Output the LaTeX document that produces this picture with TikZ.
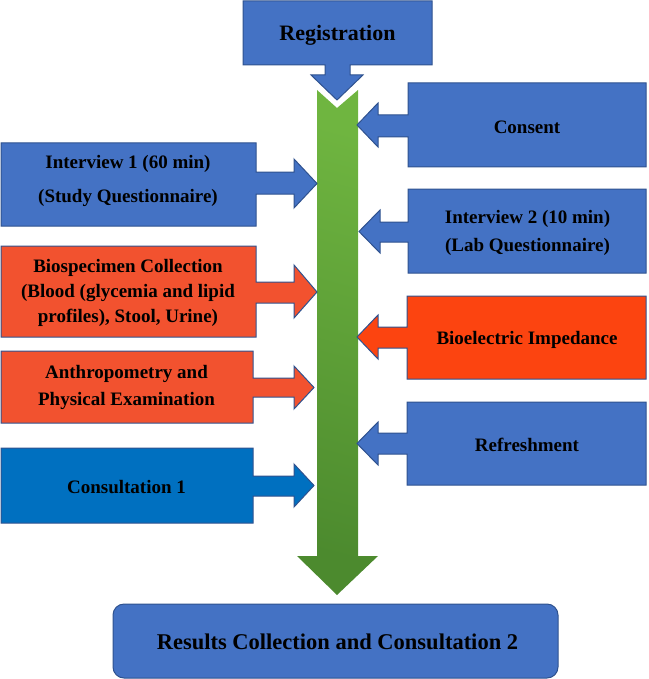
\documentclass[tikz,border=0pt]{standalone}
\usepackage{fontspec}
\setmainfont{Liberation Serif}
\definecolor{boxblue}{HTML}{4472C4}
\definecolor{boxline}{HTML}{2F528F}
\definecolor{lorange}{HTML}{F2522F}
\definecolor{rorange}{HTML}{FC4410}
\definecolor{deepblue}{HTML}{0070C0}
\definecolor{gtop}{HTML}{6FB540}
\definecolor{gbot}{HTML}{4C8A2E}
\tikzset{
  callout/.style={draw=boxline, line width=1pt, line join=miter},
  lbl/.style={font=\bfseries\fontsize{19}{23}\selectfont, align=center, inner sep=0pt, text=black},
}
\begin{document}
\begin{tikzpicture}[x=1pt,y=-1pt]
\useasboundingbox (0,0) rectangle (648,679);
% green main arrow
\shade[top color=gtop, bottom color=gbot, shading angle=-15]
  (317,90) -- (337,108) -- (358,90) -- (358,556) -- (378,556) -- (337,595)
  -- (297,556) -- (317,556) -- cycle;
% Registration (down)
\draw[callout, fill=boxblue] (243,1) -- (432,1) -- (432,65) -- (350,65) -- (350,75) -- (363,75)
  -- (337,100) -- (311,75) -- (325,75) -- (325,65) -- (243,65) -- cycle;
\node[lbl, font=\bfseries\fontsize{22}{26}\selectfont] (reg) at (337.5,35) {Registration};
% Left callouts (pointing right)
\draw[callout, fill=boxblue] (1,143) -- (256,143) -- (256,172) -- (294,172) -- (294,159) -- (317,183.5)
  -- (294,208) -- (294,194) -- (256,194) -- (256,226) -- (1,226) -- cycle;
\node[lbl, font=\bfseries\fontsize{19}{34}\selectfont] (int1) at (128,181) {Interview 1 (60 min)\\(Study Questionnaire)};
\draw[callout, fill=lorange] (1,246) -- (256,246) -- (256,282) -- (294,282) -- (294,265) -- (317,292)
  -- (294,318) -- (294,303) -- (256,303) -- (256,337) -- (1,337) -- cycle;
\node[lbl, font=\bfseries\fontsize{19}{25}\selectfont] (bio) at (128,293) {Biospecimen Collection\\(Blood (glycemia and lipid\\profiles), Stool, Urine)};
\draw[callout, fill=lorange] (1,351) -- (253,351) -- (253,378) -- (294,378) -- (294,366) -- (314,387.5)
  -- (294,409) -- (294,397) -- (253,397) -- (253,423) -- (1,423) -- cycle;
\node[lbl, font=\bfseries\fontsize{19}{27}\selectfont] (anth) at (126.5,387) {Anthropometry and\\Physical Examination};
\draw[callout, fill=deepblue] (1,448) -- (253,448) -- (253,476) -- (294,476) -- (294,464) -- (314,485.5)
  -- (294,507) -- (294,496) -- (253,496) -- (253,523) -- (1,523) -- cycle;
\node[lbl] (cons1) at (126.5,487) {Consultation 1};
% Right callouts (pointing left)
\draw[callout, fill=boxblue] (646,83) -- (408,83) -- (408,115) -- (378,115) -- (378,103) -- (357,125)
  -- (378,147) -- (378,137) -- (408,137) -- (408,167) -- (646,167) -- cycle;
\node[lbl] (consent) at (527,127) {Consent};
\draw[callout, fill=boxblue] (646,189) -- (408,189) -- (408,222) -- (380,222) -- (380,210) -- (359,231.5)
  -- (380,253) -- (380,242) -- (408,242) -- (408,273) -- (646,273) -- cycle;
\node[lbl, font=\bfseries\fontsize{19}{28}\selectfont] (int2) at (527.5,232.5) {Interview 2 (10 min)\\(Lab Questionnaire)};
\draw[callout, fill=rorange] (646,296) -- (407,296) -- (407,327) -- (378,327) -- (378,315) -- (357,337)
  -- (378,359) -- (378,348) -- (407,348) -- (407,379) -- (646,379) -- cycle;
\node[lbl] (bia) at (527,340) {Bioelectric Impedance};
\draw[callout, fill=boxblue] (646,402) -- (407,402) -- (407,433) -- (378,433) -- (378,422) -- (357,443.5)
  -- (378,465) -- (378,454) -- (407,454) -- (407,485) -- (646,485) -- cycle;
\node[lbl] (refr) at (527,445) {Refreshment};
% Bottom box
\draw[callout, fill=boxblue, rounded corners=11pt] (113,604) rectangle (558,678);
\node[lbl, font=\bfseries\fontsize{22.5}{27}\selectfont] (res) at (337.5,642) {Results Collection and Consultation 2};
\end{tikzpicture}
\end{document}
